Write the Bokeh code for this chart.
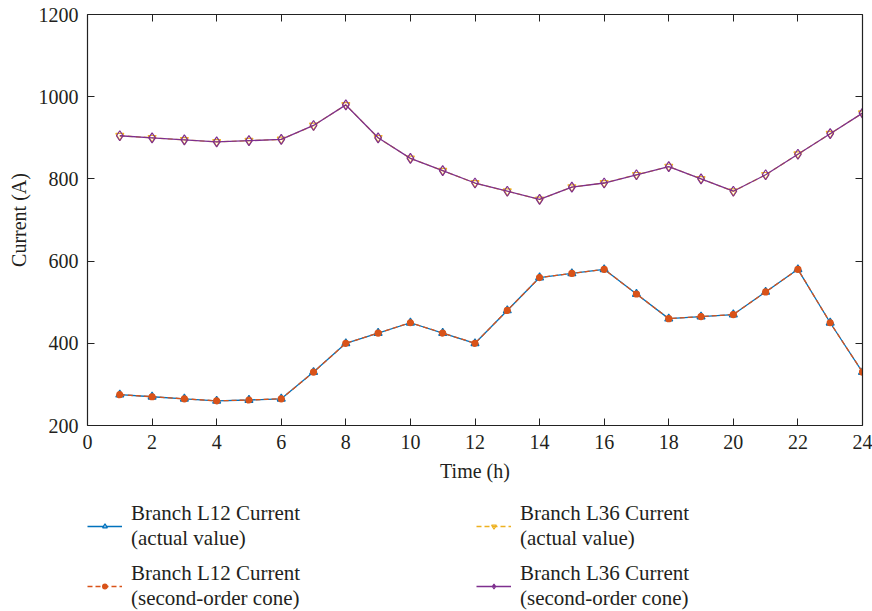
from bokeh.plotting import figure
from bokeh.layouts import column
from bokeh.models import Range1d, LinearAxis, FixedTicker, Legend, LegendItem
from bokeh.embed import file_html
from bokeh.resources import INLINE

hours = list(range(1, 25))
l12_actual = [275, 270, 265, 260, 262, 265, 330, 400, 425, 450, 425, 400,
              480, 560, 570, 580, 520, 460, 465, 470, 525, 580, 450, 330]
l12_cone = [275, 270, 265, 260, 262, 265, 330, 400, 425, 450, 425, 400,
            480, 560, 570, 580, 520, 460, 465, 470, 525, 580, 450, 330]
l36_actual = [905, 900, 895, 890, 893, 896, 930, 980, 900, 850, 820, 790,
              770, 750, 780, 790, 810, 830, 800, 770, 810, 860, 910, 960]
l36_cone = [905, 900, 895, 890, 893, 896, 930, 980, 900, 850, 820, 790,
            770, 750, 780, 790, 810, 830, 800, 770, 810, 860, 910, 960]
x_ticks = list(range(0, 25, 2))
y_ticks = list(range(200, 1201, 200))
labels = ["Branch L12 Current\n(actual value)",
          "Branch L12 Current\n(second-order cone)",
          "Branch L36 Current\n(actual value)",
          "Branch L36 Current\n(second-order cone)"]

FONT = "Liberation Serif"
BLUE = "#0072BD"
ORANGE = "#D95319"
YELLOW = "#EDB120"
PURPLE = "#7E2F8E"
TXT = "#231f20"

p = figure(width=872, height=490, output_backend="svg", toolbar_location=None,
           x_range=Range1d(0, 24), y_range=Range1d(200, 1200),
           min_border_left=87, min_border_right=10, min_border_top=14,
           min_border_bottom=65, x_axis_label="Time (h)", y_axis_label="Current (A)")
p.xgrid.visible = False
p.ygrid.visible = False
p.outline_line_color = None
p.background_fill_color = "white"
p.border_fill_color = "white"

for ax in [p.xaxis[0], p.yaxis[0]]:
    ax.axis_line_color = "#222222"
    ax.axis_line_width = 1.2
    ax.major_tick_in = 7
    ax.major_tick_out = 0
    ax.minor_tick_line_color = None
    ax.major_tick_line_color = "#222222"
    ax.major_label_text_font = FONT
    ax.major_label_text_font_size = "20px"
    ax.major_label_text_color = TXT
    ax.axis_label_text_font = FONT
    ax.axis_label_text_font_size = "20px"
    ax.axis_label_text_font_style = "normal"
    ax.axis_label_text_color = TXT
    ax.major_label_standoff = 9
p.xaxis[0].axis_label_standoff = 8
p.yaxis[0].axis_label_standoff = 6
p.xaxis[0].ticker = FixedTicker(ticks=x_ticks)
p.yaxis[0].ticker = FixedTicker(ticks=y_ticks)

for loc, tk in [("right", y_ticks), ("above", x_ticks)]:
    ax = LinearAxis(ticker=FixedTicker(ticks=tk))
    ax.axis_line_color = "#222222"
    ax.axis_line_width = 1.2
    ax.major_tick_in = 7
    ax.major_tick_out = 0
    ax.minor_tick_line_color = None
    ax.major_tick_line_color = "#222222"
    ax.major_label_overrides = {t: "" for t in tk}
    ax.major_label_standoff = 0
    p.add_layout(ax, loc)

styles = [
    dict(color=BLUE, dash="solid", marker="triangle", size=8, fill="#9cc3e6"),
    dict(color=ORANGE, dash="5 3", marker="circle", size=6, fill=ORANGE),
    dict(color=YELLOW, dash="5 3", marker="inverted_triangle", size=8, fill=None),
    dict(color=PURPLE, dash="solid", marker="diamond", size=10, fill=None),
]
series = [l12_actual, l12_cone, l36_actual, l36_cone]

for ys, st in zip(series, styles):
    p.line(hours, ys, line_color=st["color"], line_width=1.3, line_dash=st["dash"])
    p.scatter(hours, ys, marker=st["marker"], size=st["size"], line_color=st["color"],
              fill_color=st["fill"], line_width=1.2)

# legend panel: a second figure whose ranges keep its series copies out of view,
# so only the legend keys are drawn
q = figure(width=872, height=121, output_backend="svg", toolbar_location=None,
           x_range=Range1d(0, 1), y_range=Range1d(0, 1),
           min_border_left=0, min_border_right=0, min_border_top=0, min_border_bottom=0)
q.axis.visible = False
q.xgrid.visible = False
q.ygrid.visible = False
q.outline_line_color = None
q.border_fill_color = "white"

items = []
for lab, ys, st in zip(labels, series, styles):
    rl = q.line(hours, ys, line_color=st["color"], line_width=1.3, line_dash=st["dash"])
    rm = q.scatter(hours, ys, marker=st["marker"], size=st["size"] - 2, line_color=st["color"],
                   fill_color=st["fill"], line_width=1.2)
    items.append(LegendItem(label=lab, renderers=[rl, rm]))

legend = Legend(items=items, ncols=2, location=(0, 0))
legend.label_text_font = FONT
legend.label_text_font_size = "21px"
legend.label_text_color = TXT
legend.glyph_width = 35
legend.glyph_height = 12
legend.label_standoff = 9
legend.label_width = 335
legend.spacing = 10
legend.padding = 0
legend.margin = 0
legend.border_line_color = None
legend.background_fill_alpha = 0
q.add_layout(legend, "center")

layout = column(p, q, spacing=0)
open("out.html", "w").write(file_html(layout, INLINE))
